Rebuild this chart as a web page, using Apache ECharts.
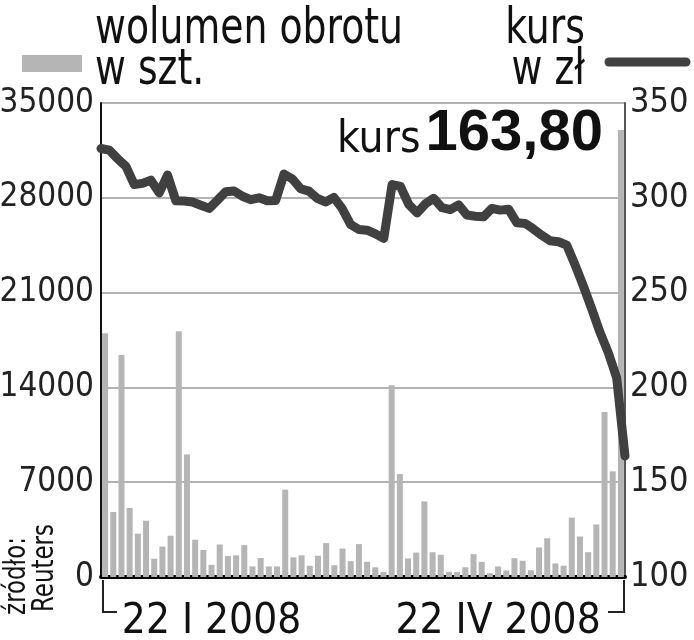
<!DOCTYPE html>
<html><head><meta charset="utf-8">
<script src="https://cdn.jsdelivr.net/npm/echarts@6/dist/echarts.min.js"></script>
<style>html,body{margin:0;padding:0;background:#fff}#c{width:694px;height:640px}</style>
</head><body><div id="c"></div>
<script>
// ---- data ----
const volume = [18000, 4800, 16400, 5100, 3200, 4150, 1350, 2250, 3050, 18150,
  9050, 2750, 2000, 900, 2400, 1550, 1600, 2350, 780, 1400,
  780, 780, 6450, 1450, 1600, 830, 1570, 2500, 870, 2100,
  1170, 2430, 1120, 720, 380, 14150, 7600, 1370, 1800, 5580,
  1830, 1640, 380, 380, 720, 1690, 1120, 280, 780, 480,
  1390, 1200, 500, 2180, 2860, 1000, 830, 4380, 2990, 1830,
  3880, 12180, 7800, 33000];
const price = [326, 325.1, 320.6, 316.6, 307, 307.6, 309.3, 302.6, 312, 298.4,
  298.3, 297.8, 296.1, 294.4, 298.7, 303.2, 303.6, 300.8, 299, 300,
  298.4, 298.6, 312.5, 310, 304.8, 303.5, 299.7, 297.8, 300.2, 294.3,
  286, 283.3, 282.9, 281, 278.6, 307, 306, 296.5, 292, 296.8,
  299.7, 294.8, 293.8, 296.3, 290.9, 290.3, 290, 294.4, 293.5, 294,
  286.8, 286.5, 283.5, 280.2, 277.3, 276.8, 275, 264.5, 253.4, 241.4,
  229, 218.2, 205, 163.8];
const dateLabels = ['22 I 2008', '22 IV 2008'];
const dateLabelIndex = [13, 48];
const volumeTicks = [0, 7000, 14000, 21000, 28000, 35000];
const priceTicks = [100, 150, 200, 250, 300, 350];
const lastPrice = '163,80';

const sessions = volume.map((v, i) => String(i + 1));
const COND = "'DejaVu Sans Condensed','DejaVu Sans',sans-serif";

const chart = echarts.init(document.getElementById('c'), null, {renderer: 'canvas'});
chart.setOption({
  animation: false,
  backgroundColor: '#fff',
  grid: {left: 101, right: 69, top: 103, bottom: 63, containLabel: false, outerBoundsMode: 'none'},
  xAxis: [{
    type: 'category', data: sessions, boundaryGap: true,
    axisLine: {show: true, lineStyle: {color: '#000', width: 4}},
    axisTick: {show: false},
    axisLabel: {
      interval: 0, margin: 24,
      formatter: (v, i) => { const k = dateLabelIndex.indexOf(i); return k >= 0 ? dateLabels[k] : ''; },
      fontFamily: COND, fontSize: 42, color: '#111'
    },
    splitLine: {show: false}
  }, {
    type: 'category', data: sessions, boundaryGap: false, show: false
  }],
  yAxis: [{
    type: 'value', min: volumeTicks[0], max: volumeTicks[volumeTicks.length - 1], interval: 7000,
    axisLine: {show: true, lineStyle: {color: '#111', width: 2}},
    axisTick: {show: false},
    axisLabel: {fontFamily: COND, fontSize: 33, color: '#222', margin: 7, formatter: v => String(v)},
    splitLine: {show: true, lineStyle: {color: '#9a9a9a', width: 1.5}}
  }, {
    type: 'value', position: 'right', min: priceTicks[0], max: priceTicks[priceTicks.length - 1], interval: 50,
    axisLine: {show: true, lineStyle: {color: '#555', width: 2}},
    axisTick: {show: false},
    axisLabel: {fontFamily: COND, fontSize: 34, color: '#222', margin: 5, formatter: v => String(v)},
    splitLine: {show: false}
  }],
  series: [{
    type: 'bar', name: 'wolumen obrotu w szt.', data: volume, xAxisIndex: 0, yAxisIndex: 0,
    barWidth: 6, itemStyle: {color: '#b5b5b5'}
  }, {
    type: 'line', name: 'kurs w zł', data: price, xAxisIndex: 1, yAxisIndex: 1,
    symbol: 'none', lineStyle: {color: '#404040', width: 9, cap: 'round', join: 'round'}
  }],
  title: {
    text: '{a|kurs} {b|' + lastPrice + '}',
    right: 91, top: 105, padding: 0,
    textStyle: {rich: {
      a: {fontFamily: COND, fontWeight: 'normal', fontSize: 44, color: '#111', verticalAlign: 'bottom'},
      b: {fontFamily: "'Liberation Sans',Arial,sans-serif", fontWeight: 'bold', fontSize: 58, color: '#111', verticalAlign: 'bottom'}
    }}
  },
  graphic: [
    {type: 'rect', shape: {x: 22, y: 55, width: 60, height: 17}, style: {fill: '#b5b5b5'}},
    {type: 'text', x: 95, y: 30, scaleX: 0.84, style: {text: 'wolumen obrotu', font: "50px " + COND, fill: '#111', verticalAlign: 'middle'}},
    {type: 'text', x: 95, y: 71, scaleX: 0.84, style: {text: 'w szt.', font: "50px " + COND, fill: '#111', verticalAlign: 'middle'}},
    {type: 'text', x: 585, y: 30, scaleX: 0.84, style: {text: 'kurs', font: "50px " + COND, fill: '#111', align: 'right', verticalAlign: 'middle'}},
    {type: 'text', x: 585, y: 71, scaleX: 0.84, style: {text: 'w zł', font: "50px " + COND, fill: '#111', align: 'right', verticalAlign: 'middle'}},
    {type: 'line', shape: {x1: 609, y1: 62, x2: 686, y2: 62}, style: {stroke: '#404040', lineWidth: 9, lineCap: 'round'}},
    {type: 'polyline', shape: {points: [[103, 580], [103, 612], [117, 612]]}, style: {stroke: '#222', lineWidth: 2, fill: null}},
    {type: 'polyline', shape: {points: [[608, 612], [624, 612], [624, 580]]}, style: {stroke: '#222', lineWidth: 2, fill: null}},
    {type: 'text', x: 17, y: 576, rotation: Math.PI / 2, scaleX: 0.85, style: {text: 'źródło:', font: "30px " + COND, fill: '#111', align: 'center', verticalAlign: 'middle'}},
    {type: 'text', x: 45, y: 568, rotation: Math.PI / 2, scaleX: 0.85, style: {text: 'Reuters', font: "30px " + COND, fill: '#111', align: 'center', verticalAlign: 'middle'}}
  ]
});
</script>
</body></html>
